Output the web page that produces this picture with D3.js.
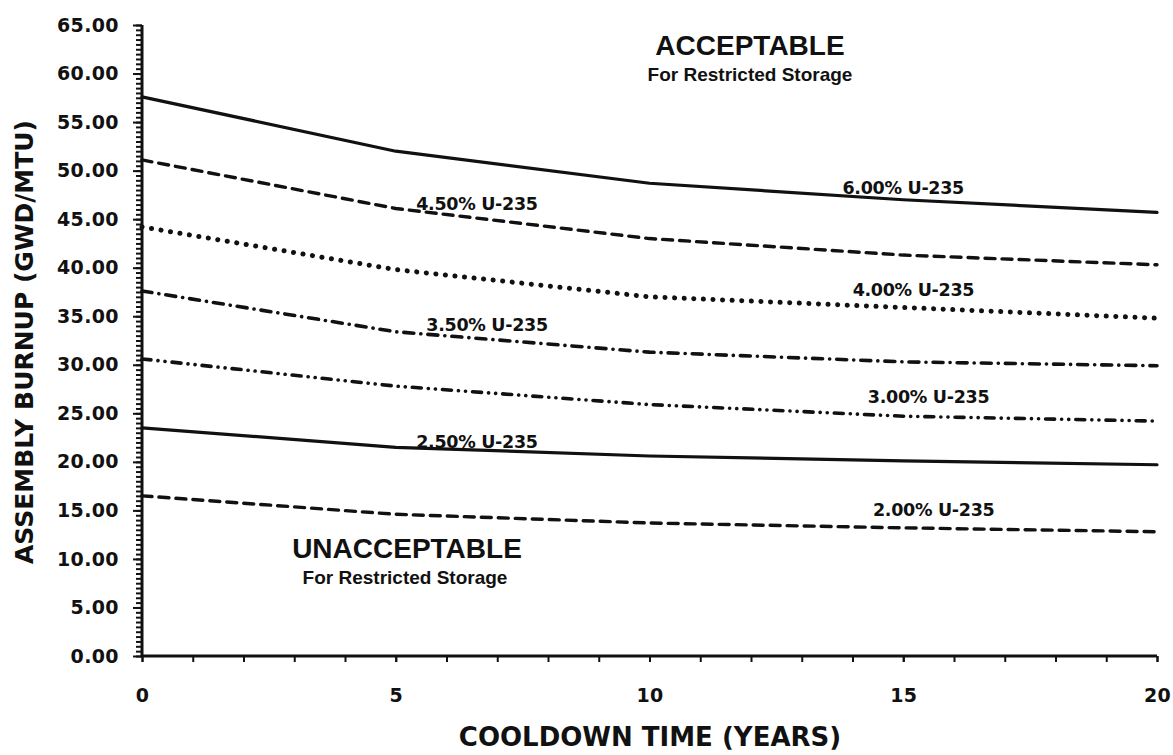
<!DOCTYPE html>
<html><head><meta charset="utf-8">
<script src="https://cdn.jsdelivr.net/npm/d3@7"></script>
<style>
html,body{margin:0;padding:0;background:#fff;}
svg text{font-family:"DejaVu Sans",sans-serif;font-weight:bold;fill:#111;}
</style></head>
<body><svg id="c" width="1173" height="755"></svg>
<script>
const years = [0, 5, 10, 15, 20];
const s600 = [57.6, 52.0, 48.7, 47.0, 45.7];
const s450 = [51.1, 46.1, 43.0, 41.3, 40.3];
const s400 = [44.2, 39.8, 37.0, 35.9, 34.8];
const s350 = [37.6, 33.4, 31.3, 30.3, 29.9];
const s300 = [30.6, 27.8, 25.9, 24.7, 24.2];
const s250 = [23.5, 21.5, 20.6, 20.1, 19.7];
const s200 = [16.5, 14.6, 13.7, 13.2, 12.8];
const seriesNames = ["6.00% U-235","4.50% U-235","4.00% U-235","3.50% U-235","3.00% U-235","2.50% U-235","2.00% U-235"];
const yTicks = [0,5,10,15,20,25,30,35,40,45,50,55,60,65];
const xTicks = [0,5,10,15,20];
// label anchor (year, burnup at text baseline)
const labelPos = [[15.0,47.6],[6.6,45.9],[15.2,37.1],[6.8,33.5],[15.5,26.1],[6.6,21.4],[15.6,14.4]];

const svg = d3.select("#c");
const x = d3.scaleLinear().domain([0,20]).range([142,1157]);
const y = d3.scaleLinear().domain([0,65]).range([656,25]);

const styles = [
  {dash:"none", w:3.2},
  {dash:"10,7", w:3.4},
  {dash:"0.1,9.5", w:5},
  {dash:"10,7,0.1,7", w:3.6},
  {dash:"9,7,0.1,7,0.1,7", w:3.6},
  {dash:"none", w:3.2},
  {dash:"10,7", w:3.4}
];
const all = [s600,s450,s400,s350,s300,s250,s200];
const line = d3.line().x((d,i)=>x(years[i])).y(d=>y(d)).curve(d3.curveLinear);
all.forEach((s,k)=>{
  svg.append("path").attr("d",line(s)).attr("fill","none").attr("stroke","#111")
    .attr("stroke-width",styles[k].w).attr("stroke-linecap","round").attr("stroke-linejoin","round")
    .attr("stroke-dasharray",styles[k].dash);
});
seriesNames.forEach((n,k)=>{
  svg.append("text").attr("x",x(labelPos[k][0])).attr("y",y(labelPos[k][1]))
    .attr("text-anchor","middle").attr("font-size",17.5).attr("letter-spacing","-0.3").text(n);
});

// axes
const minorY = d3.range(0,65.01,0.5);
const gy = svg.append("g").attr("transform","translate(142,0)")
  .call(d3.axisLeft(y).tickValues(minorY).tickSize(6).tickFormat(""));
const gy2 = svg.append("g").attr("transform","translate(142,0)")
  .call(d3.axisLeft(y).tickValues(yTicks).tickSize(9).tickPadding(14).tickFormat(d3.format(".2f")));
const gx = svg.append("g").attr("transform","translate(0,656)")
  .call(d3.axisBottom(x).tickValues(d3.range(0,20.01,1)).tickSize(6).tickFormat(""));
const gx2 = svg.append("g").attr("transform","translate(0,656)")
  .call(d3.axisBottom(x).tickValues(xTicks).tickSize(6).tickFormat(d3.format("d")));
[gy,gy2,gx,gx2].forEach(g=>{
  g.selectAll(".tick line").attr("stroke","#111").attr("stroke-width",2);
  g.selectAll("text").attr("font-size",19).attr("fill","#111")
    .attr("font-family","DejaVu Sans, sans-serif").attr("font-weight","bold").attr("letter-spacing","0.4");
});
gx2.selectAll("text").attr("y",46).attr("dy",0);
gy.select("path.domain").attr("d","M0,25V656").attr("stroke","#111").attr("stroke-width",3);
gx.select("path.domain").attr("d","M142,0H1157").attr("stroke","#111").attr("stroke-width",3);
gy2.select("path.domain").remove(); gx2.select("path.domain").remove();

// axis titles
svg.append("text").attr("transform","translate(33,342) rotate(-90)").attr("text-anchor","middle")
  .attr("font-size",25).text("ASSEMBLY BURNUP (GWD/MTU)");
svg.append("text").attr("x",650).attr("y",746).attr("text-anchor","middle")
  .attr("font-size",26).text("COOLDOWN TIME (YEARS)");

// region annotations
const reg = svg.append("g");
reg.append("text").attr("x",750).attr("y",55).attr("text-anchor","middle").attr("font-size",28).style("font-family","Liberation Sans, Arial, sans-serif").text("ACCEPTABLE");
reg.append("text").attr("x",750).attr("y",81).attr("text-anchor","middle").attr("font-size",19).style("font-family","Liberation Sans, Arial, sans-serif").text("For Restricted Storage");
reg.append("text").attr("x",407).attr("y",558).attr("text-anchor","middle").attr("font-size",28).style("font-family","Liberation Sans, Arial, sans-serif").text("UNACCEPTABLE");
reg.append("text").attr("x",405).attr("y",584).attr("text-anchor","middle").attr("font-size",19).style("font-family","Liberation Sans, Arial, sans-serif").text("For Restricted Storage");
</script></body></html>
